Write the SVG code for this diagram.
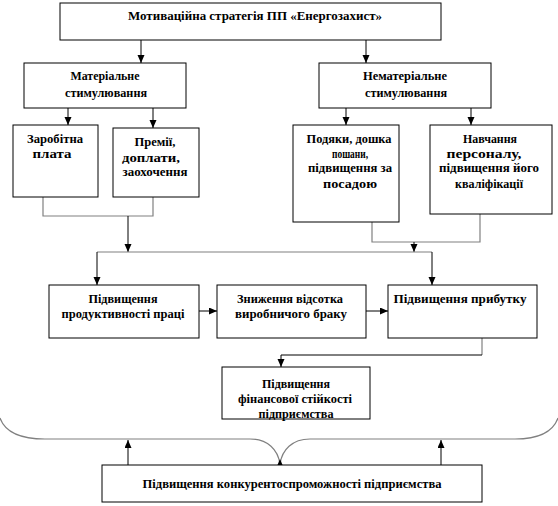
<svg xmlns="http://www.w3.org/2000/svg" width="558" height="506" viewBox="0 0 558 506">
<defs>
<marker id="ah" markerUnits="userSpaceOnUse" markerWidth="8" markerHeight="8" refX="8" refY="3.5" orient="auto">
<path d="M0,0 L8,3.5 L0,7 z" fill="#000"/>
</marker>
<style>
.box{fill:#fff;stroke:#000;stroke-width:1}
.t{font-family:"Liberation Serif","Times New Roman",serif;font-weight:bold;font-size:12px;fill:#000;text-anchor:middle}
.c{fill:none;stroke:#000;stroke-width:1}
.g{fill:none;stroke:#808080;stroke-width:1.2}
.a{fill:none;stroke:#000;stroke-width:1;marker-end:url(#ah)}
</style>
</defs>
<rect width="558" height="506" fill="#fff"/>
<g id="connectors">
<path class="a" d="M141,40 V63"/>
<path class="a" d="M366,40 V63"/>
<path class="a" d="M68,108 V125"/>
<path class="a" d="M153,108 V128"/>
<path class="a" d="M346,108 V125"/>
<path class="a" d="M471,108 V125"/>
<path class="g" d="M43,197 V216 H153 V197"/>
<path class="a" d="M128,216 V252"/>
<path class="g" d="M372,222 V242 H480 V214"/>
<path class="a" d="M414,242 V252"/>
<path class="g" d="M97,252 H432"/>
<path class="a" d="M97,252 V285"/>
<path class="a" d="M432,252 V285"/>
<path class="a" d="M199,311 H217"/>
<path class="a" d="M366,311 H388"/>
<path class="g" d="M482,338 V355"/>
<path class="a" d="M482,355 H281 V367"/>
<path class="g" d="M0,418 C5,432 20,439 45,439 H250 C268,439 278,450 280,464 C282,450 292,439 310,439 H515 C540,439 553,432 558,418"/>
<polygon points="277,466 283,466 280,459" fill="#000"/>
<path class="a" d="M128,465 V440"/>
<path class="a" d="M441,465 V440"/>
</g>
<g id="n-top"><rect class="box" x="60" y="3" width="381" height="37"/>
<text class="t" x="255" y="20" textLength="254" lengthAdjust="spacingAndGlyphs">Мотиваційна стратегія ПП «Енергозахист»</text></g>
<g id="n-mat"><rect class="box" x="24" y="63" width="162" height="45"/>
<text class="t" x="105" y="80" textLength="69" lengthAdjust="spacingAndGlyphs">Матеріальне</text>
<text class="t" x="106" y="97" textLength="82" lengthAdjust="spacingAndGlyphs">стимулювання</text></g>
<g id="n-nemat"><rect class="box" x="319" y="63" width="172" height="45"/>
<text class="t" x="405" y="80" textLength="84" lengthAdjust="spacingAndGlyphs">Нематеріальне</text>
<text class="t" x="406" y="97" textLength="82" lengthAdjust="spacingAndGlyphs">стимулювання</text></g>
<g id="n-zarp"><rect class="box" x="13" y="125" width="85" height="72"/>
<text class="t" x="55" y="143" textLength="56" lengthAdjust="spacingAndGlyphs">Заробітна</text>
<text class="t" x="52" y="158" textLength="39" lengthAdjust="spacingAndGlyphs">плата</text></g>
<g id="n-prem"><rect class="box" x="113" y="128" width="86" height="69"/>
<text class="t" x="155" y="146" textLength="41" lengthAdjust="spacingAndGlyphs">Премії,</text>
<text class="t" x="151" y="162" textLength="58" lengthAdjust="spacingAndGlyphs">доплати,</text>
<text class="t" x="155" y="176" textLength="65" lengthAdjust="spacingAndGlyphs">заохочення</text></g>
<g id="n-podyaky"><rect class="box" x="293" y="125" width="106" height="97"/>
<text class="t" x="349" y="143" textLength="85" lengthAdjust="spacingAndGlyphs">Подяки, дошка</text>
<text class="t" x="350" y="158" textLength="36" lengthAdjust="spacingAndGlyphs">пошани,</text>
<text class="t" x="350" y="172" textLength="84" lengthAdjust="spacingAndGlyphs">підвищення за</text>
<text class="t" x="350" y="188" textLength="54" lengthAdjust="spacingAndGlyphs">посадою</text></g>
<g id="n-navch"><rect class="box" x="430" y="125" width="122" height="89"/>
<text class="t" x="490" y="143" textLength="54" lengthAdjust="spacingAndGlyphs">Навчання</text>
<text class="t" x="484" y="158" textLength="75" lengthAdjust="spacingAndGlyphs">персоналу,</text>
<text class="t" x="489" y="172" textLength="100" lengthAdjust="spacingAndGlyphs">підвищення його</text>
<text class="t" x="489" y="188" textLength="68" lengthAdjust="spacingAndGlyphs">кваліфікації</text></g>
<g id="n-prod"><rect class="box" x="49" y="285" width="150" height="53"/>
<text class="t" x="123" y="303" textLength="69" lengthAdjust="spacingAndGlyphs">Підвищення</text>
<text class="t" x="123" y="318" textLength="123" lengthAdjust="spacingAndGlyphs">продуктивності праці</text></g>
<g id="n-brak"><rect class="box" x="217" y="285" width="149" height="53"/>
<text class="t" x="290" y="303" textLength="106" lengthAdjust="spacingAndGlyphs">Зниження відсотка</text>
<text class="t" x="291" y="318" textLength="112" lengthAdjust="spacingAndGlyphs">виробничого браку</text></g>
<g id="n-prybutok"><rect class="box" x="388" y="285" width="149" height="53"/>
<text class="t" x="460" y="303" textLength="133" lengthAdjust="spacingAndGlyphs">Підвищення  прибутку</text></g>
<g id="n-fin"><rect class="box" x="222" y="367" width="148" height="52"/>
<text class="t" x="296" y="388" textLength="68" lengthAdjust="spacingAndGlyphs">Підвищення</text>
<text class="t" x="295" y="403" textLength="114" lengthAdjust="spacingAndGlyphs">фінансової стійкості</text>
<text class="t" x="296" y="418" textLength="75" lengthAdjust="spacingAndGlyphs">підприємства</text></g>
<g id="n-konk"><rect class="box" x="102" y="465" width="380" height="37"/>
<text class="t" x="292" y="488" textLength="299" lengthAdjust="spacingAndGlyphs">Підвищення  конкурентоспроможності підприємства</text></g>
</svg>
